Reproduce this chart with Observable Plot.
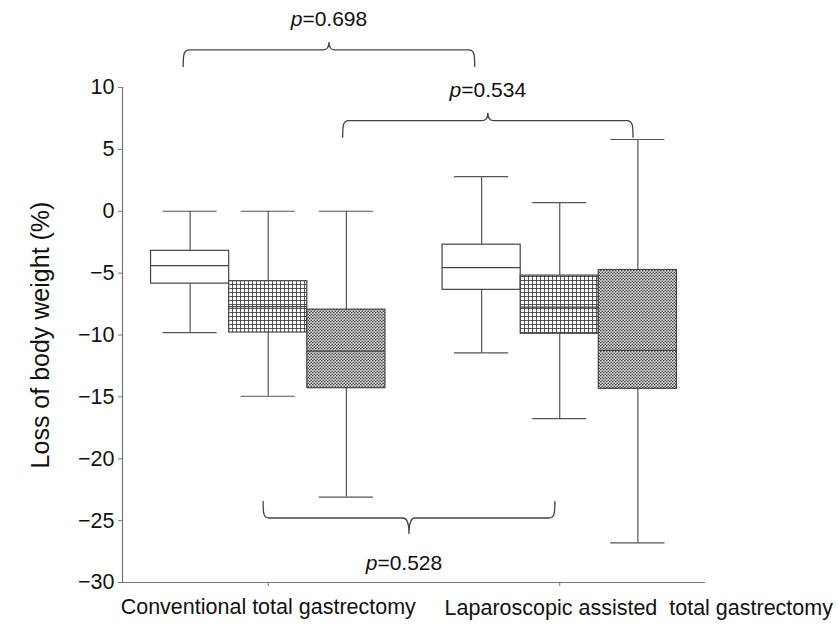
<!DOCTYPE html>
<html><head><meta charset="utf-8">
<script src="https://cdn.jsdelivr.net/npm/d3@7"></script>
<script src="https://cdn.jsdelivr.net/npm/@observablehq/plot@0.6"></script>
<style>
body{margin:0;background:#fff;}
#chart svg text{white-space:pre;}
</style></head><body><div id="chart"></div>
<script>
// ---- data ----
const groups = ["Conventional total gastrectomy", "Laparoscopic assisted  total gastrectomy"];
const periods = ["Period 1", "Period 2", "Period 3"];
// values listed group-major: group 1 (periods 1..3), group 2 (periods 1..3)
const whiskerHigh = [0, 0, 0, 2.8, 0.7, 5.8];
const q3 = [-3.2, -5.65, -7.95, -2.7, -5.2, -4.75];
const medians = [-4.4, -7.7, -11.3, -4.55, -7.75, -11.25];
const q1 = [-5.85, -9.8, -14.3, -6.35, -9.9, -14.35];
const whiskerLow = [-9.8, -14.95, -23.1, -11.45, -16.75, -26.8];
const yTicks = [10, 5, 0, -5, -10, -15, -20, -25, -30];
const yLabel = "Loss of body weight (%)";
// significance braces (x in group units, level in y units)
const braceFrom = [0.71, 1.257, 0.984];
const braceTo = [1.71, 2.253, 1.985];
const braceLevel = [13, 7.28, -24.83];
const braceP = ["0.698", "0.534", "0.528"];
const braceSide = ["up", "up", "down"];

// ---- layout constants ----
const OFFSET = 0.268, HALF = 0.134, CAP = 0.093;
const AXIS = "#777", LINE = "#555", BOX = "#444";
const fmt = d => (d < 0 ? "\u2212" + Math.abs(d) : String(d));

const rows = groups.flatMap((g, gi) => periods.map((p, pi) => {
  const k = gi * periods.length + pi;
  return {group: g, period: p, pos: gi + 1 + (pi - 1) * OFFSET,
    hi: whiskerHigh[k], q3: q3[k], med: medians[k], q1: q1[k], lo: whiskerLow[k]};
}));
const fills = ["white", "url(#gridpat)", "url(#dotpat)"];

function braces(index, scales) {
  const x = scales.x, y = scales.y;
  const g = d3.create("svg:g");
  braceFrom.forEach((f, i) => {
    const x1 = x(f), x2 = x(braceTo[i]), yy = y(braceLevel[i]);
    const s = braceSide[i] === "up" ? -1 : 1;
    const arm = -s * 17, n = s < 0 ? 8 : 16, r = 6;
    const xm = (x1 + x2) / 2;
    const d = `M${x1},${yy + arm} C${x1},${yy + arm * 0.35} ${x1},${yy} ${x1 + r},${yy}` +
      ` L${xm - r},${yy} Q${xm},${yy} ${xm},${yy + s * n} Q${xm},${yy} ${xm + r},${yy}` +
      ` L${x2 - r},${yy} C${x2},${yy} ${x2},${yy + arm * 0.35} ${x2},${yy + arm}`;
    g.append("path").attr("d", d).attr("fill", "none").attr("stroke", BOX).attr("stroke-width", 1.3);
    const t = g.append("text").attr("x", xm - (s < 0 ? 0 : 5)).attr("y", yy + (s < 0 ? -24 : 52))
      .attr("text-anchor", "middle").attr("font-size", 21).attr("fill", "#111");
    t.append("tspan").attr("font-style", "italic").text("p");
    t.append("tspan").text("=" + braceP[i]);
  });
  return g.node();
}

const chart = Plot.plot({
  width: 838, height: 630,
  marginLeft: 122, marginRight: 133, marginTop: 87, marginBottom: 48,
  style: {fontFamily: "'Liberation Sans', Arial, sans-serif", fontSize: "21.5px", color: "#111", background: "white", overflow: "visible"},
  x: {domain: [0.5, 2.5]},
  y: {domain: [-30, 10]},
  marks: [
    Plot.ruleX(rows, {x: "pos", y1: "q3", y2: "hi", stroke: LINE, strokeWidth: 1.2}),
    Plot.ruleX(rows, {x: "pos", y1: "q1", y2: "lo", stroke: LINE, strokeWidth: 1.2}),
    Plot.ruleY(rows, {y: "hi", x1: d => d.pos - CAP, x2: d => d.pos + CAP, stroke: LINE, strokeWidth: 1.2}),
    Plot.ruleY(rows, {y: "lo", x1: d => d.pos - CAP, x2: d => d.pos + CAP, stroke: LINE, strokeWidth: 1.2}),
    ...periods.map((p, pi) => Plot.rect(rows.filter(d => d.period === p), {
      x1: d => d.pos - HALF, x2: d => d.pos + HALF, y1: "q1", y2: "q3",
      fill: fills[pi], stroke: BOX, strokeWidth: 1.2
    })),
    Plot.ruleY(rows, {y: "med", x1: d => d.pos - HALF, x2: d => d.pos + HALF, stroke: BOX, strokeWidth: 1.3}),
    Plot.ruleX([0.5], {y1: -30, y2: 10, stroke: AXIS, strokeWidth: 1.2}),
    Plot.ruleY([-30], {x1: 0.5, x2: 2.5, stroke: AXIS, strokeWidth: 1.2}),
    Plot.axisY({ticks: yTicks, tickSize: 4, tickFormat: () => "", label: null, stroke: AXIS}),
    Plot.text(yTicks, {x: 0.5, y: d => d, dx: -8, textAnchor: "end", fontSize: 21.5, text: fmt}),
    Plot.axisX({ticks: [1, 2], tickSize: 4, tickFormat: () => "", label: null, stroke: AXIS}),
    Plot.text([groups[0]], {x: 1, y: -30, dy: 25, fontSize: 21.5, text: d => d}),
    Plot.text([groups[1]], {x: 2, y: -30, dy: 26, dx: 79, fontSize: 21.5, text: d => d}),
    Plot.text([yLabel], {frameAnchor: "left", dx: -82, rotate: -90, fontSize: 25, textAnchor: "middle", text: d => d}),
    braces
  ]
});

d3.select(chart).insert("defs", ":first-child").html(`
  <pattern id="gridpat" width="4" height="4" patternUnits="userSpaceOnUse">
    <rect width="4" height="4" fill="#fafafa"/>
    <path d="M0,0.5H4M0.5,0V4" stroke="#333" stroke-width="0.8" fill="none"/>
  </pattern>
  <pattern id="dotpat" width="3" height="3" patternUnits="userSpaceOnUse">
    <rect width="3" height="3" fill="#dcdcdc"/>
    <circle cx="0.75" cy="0.75" r="0.8" fill="#3a3a3a"/>
    <circle cx="2.25" cy="2.25" r="0.8" fill="#3a3a3a"/>
  </pattern>`);

document.getElementById("chart").appendChild(chart);
</script></body></html>
